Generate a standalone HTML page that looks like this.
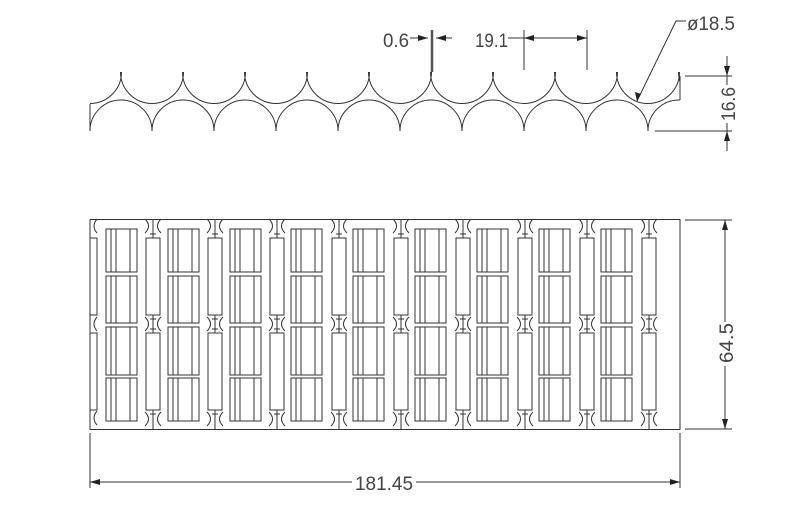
<!DOCTYPE html>
<html><head><meta charset="utf-8"><style>
html,body{margin:0;padding:0;background:#fff;width:800px;height:508px;overflow:hidden}
svg{display:block}
text{font-family:"Liberation Sans",sans-serif;fill:#444;font-size:19px}
</style></head><body>
<svg id="s" width="800" height="508" viewBox="0 0 800 508" xmlns="http://www.w3.org/2000/svg">
<defs>
<clipPath id="cu"><rect x="90" y="60" width="590" height="44"/></clipPath>
<clipPath id="cl"><rect x="90" y="98" width="590" height="34"/></clipPath>
<marker id="ah" viewBox="0 0 10 6" refX="10" refY="3" markerWidth="10" markerHeight="6" orient="auto-start-reverse" markerUnits="userSpaceOnUse"><path d="M0,0 L10,3 L0,6 z" fill="#222"/></marker>
</defs>
<g id="g" fill="none" stroke="#333" stroke-width="1">
<line x1="90" y1="104" x2="90" y2="131"/>
<line x1="680" y1="76" x2="680" y2="100"/>
<line x1="410" y1="38" x2="428" y2="38" marker-end="url(#ah)"/>
<line x1="436" y1="38" x2="452" y2="38" marker-start="url(#ah)"/>
<line x1="432" y1="30" x2="432" y2="72" stroke-width="2.5" stroke="#555"/>
<line x1="508" y1="38" x2="524" y2="38"/>
<line x1="524" y1="38" x2="587" y2="38" marker-start="url(#ah)" marker-end="url(#ah)"/>
<line x1="524" y1="30" x2="524" y2="70"/>
<line x1="587" y1="30" x2="587" y2="70"/>
<polyline points="686,21 676,21 637,101"/>
<line x1="685" y1="76" x2="732" y2="76"/>
<line x1="655" y1="131" x2="732" y2="131"/>
<line x1="727" y1="56" x2="727" y2="76" marker-end="url(#ah)"/>
<line x1="727" y1="151" x2="727" y2="131" marker-end="url(#ah)"/>
<line x1="727" y1="76" x2="727" y2="131"/>
<rect x="90" y="219.5" width="590" height="210"/>
<line x1="685" y1="220" x2="732" y2="220"/>
<line x1="685" y1="429" x2="732" y2="429"/>
<line x1="725" y1="220" x2="725" y2="429" marker-start="url(#ah)" marker-end="url(#ah)"/>
<line x1="90" y1="433" x2="90" y2="488"/>
<line x1="680" y1="433" x2="680" y2="488"/>
<line x1="90" y1="482" x2="680" y2="482" marker-start="url(#ah)" marker-end="url(#ah)"/>
</g>
<path d="M637,101 l-2,-9 l6,2 z" fill="#222"/>
<rect x="352" y="470" width="64" height="22" fill="#fff"/>
<text x="355" y="490" textLength="58" lengthAdjust="spacingAndGlyphs">181.45</text>
<rect x="376" y="28" width="34" height="20" fill="#fff"/>
<text x="383" y="47" textLength="26" lengthAdjust="spacingAndGlyphs">0.6</text>
<text x="475" y="47" textLength="33" lengthAdjust="spacingAndGlyphs">19.1</text>
<text x="687" y="30" textLength="48" lengthAdjust="spacingAndGlyphs">ø18.5</text>
<rect x="716" y="85" width="20" height="38" fill="#fff"/>
<text transform="translate(735,121) rotate(-90)" textLength="34" lengthAdjust="spacingAndGlyphs">16.6</text>
<rect x="714" y="322" width="20" height="44" fill="#fff"/>
<text transform="translate(733,363) rotate(-90)" textLength="40" lengthAdjust="spacingAndGlyphs">64.5</text>
<script>
var g=document.getElementById('g'),NS='http://www.w3.org/2000/svg';
function el(t,a,p){var e=document.createElementNS(NS,t);for(var k in a)e.setAttribute(k,a[k]);(p||g).appendChild(e);return e;}
var gu=el('g',{'clip-path':'url(#cu)'}),gl=el('g',{'clip-path':'url(#cl)'});
for(var k=0;k<11;k++){
 var cx=90+62*k;
 el('path',{d:'M'+(cx-31.5)+',72 A31.5,31.5 0 0 0 '+(cx+31.5)+',72'},gu);
 var lx=121+62*k;
 el('path',{d:'M'+(lx-31)+',131 A31,31 0 0 1 '+(lx+31)+',131'},gl);
}
function bow(c,y){
 el('path',{d:'M'+(c-8)+','+(y-7)+' Q'+(c-1)+','+y+' '+(c-8)+','+(y+7)});
 el('path',{d:'M'+(c+8)+','+(y-7)+' Q'+(c+1)+','+y+' '+(c+8)+','+(y+7)});
}
el('rect',{x:90,y:238,width:7,height:77});el('rect',{x:90,y:333,width:7,height:77});
[226,324,418].forEach(function(y){el('path',{d:'M97,'+(y-7)+' Q91,'+y+' 97,'+(y+7)});});
for(var k=0;k<9;k++){
 var d=146+62*k,c=d+7;
 el('rect',{x:d,y:238,width:14,height:77});el('rect',{x:d,y:333,width:14,height:77});
 el('line',{x1:c,y1:220,x2:c,y2:238});el('line',{x1:c,y1:315,x2:c,y2:333});el('line',{x1:c,y1:410,x2:c,y2:429});
 el('line',{x1:c-3,y1:234,x2:c+3,y2:234});el('line',{x1:c-3,y1:319,x2:c+3,y2:319});el('line',{x1:c-3,y1:329,x2:c+3,y2:329});el('line',{x1:c-3,y1:414,x2:c+3,y2:414});
 bow(c,226);bow(c,324);bow(c,419);
 var x=106+62*k+(k<3?0:-1);
 var rows=[[229,272],[276,323],[327,375],[378,421]];
 rows.forEach(function(r){
  el('rect',{x:x,y:r[0],width:31,height:r[1]-r[0]});
  el('line',{x1:x+5,y1:r[0],x2:x+5,y2:r[1]});el('line',{x1:x+10,y1:r[0],x2:x+10,y2:r[1]});
  el('line',{x1:x+24,y1:r[0],x2:x+24,y2:r[1]});
 });
}
</script>
</svg>
</body></html>
